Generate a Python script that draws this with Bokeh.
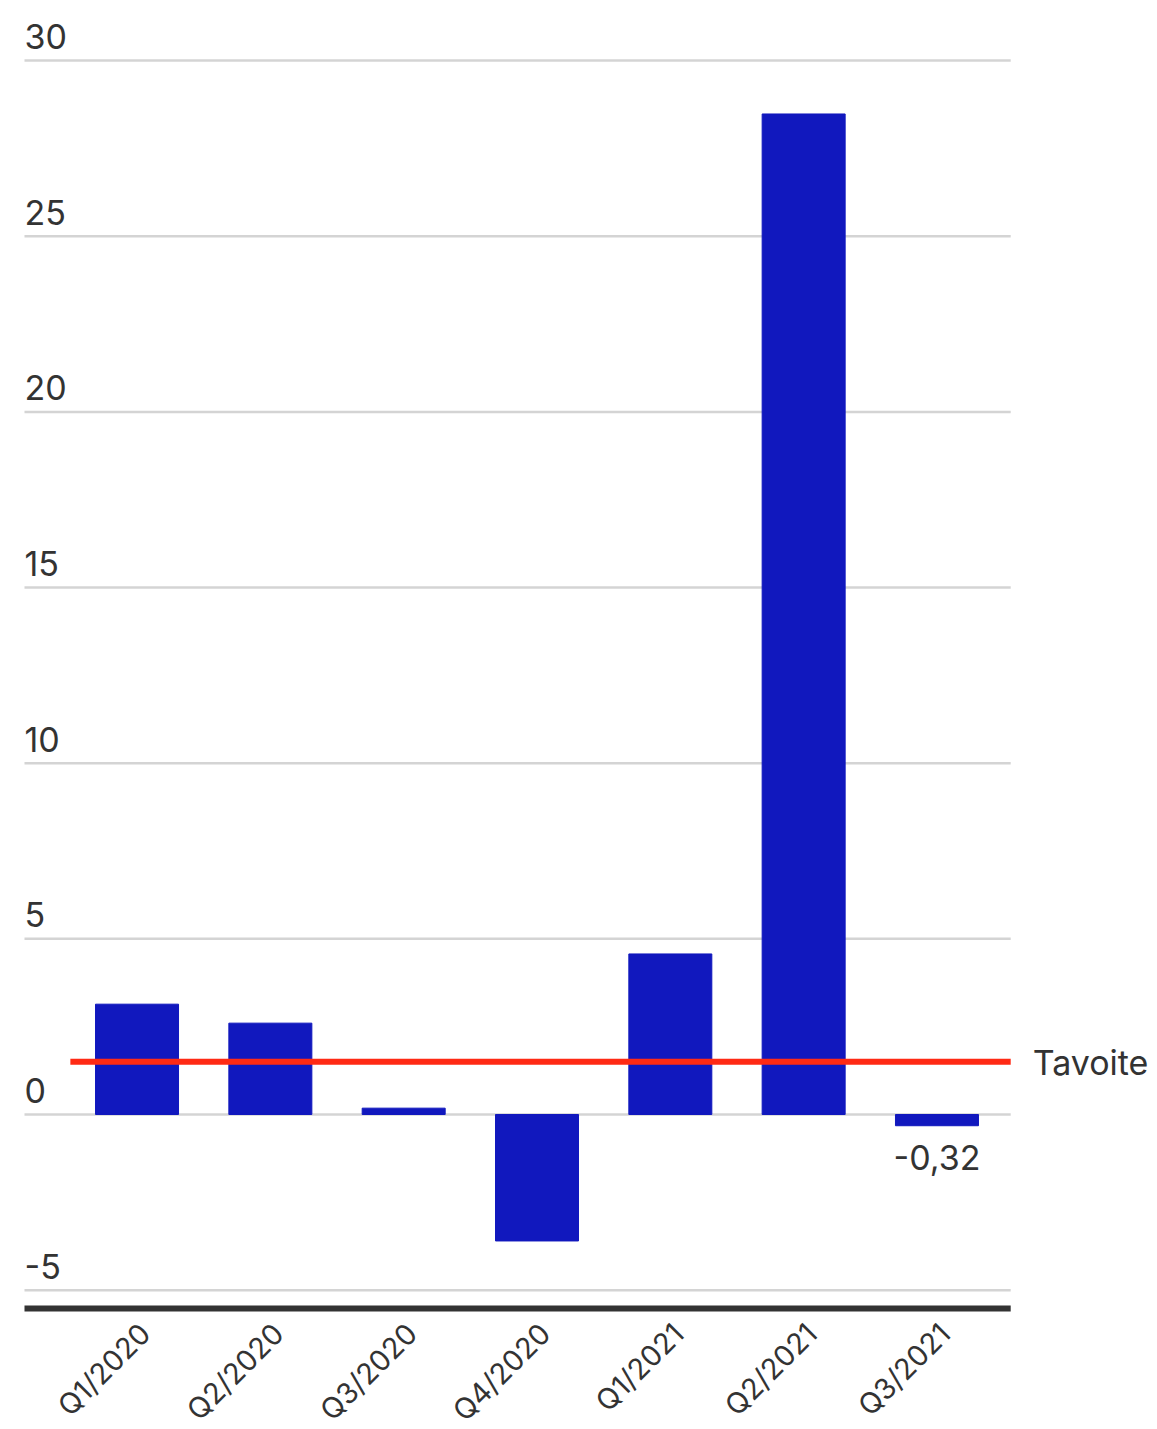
import math
from bokeh.plotting import figure
from bokeh.models import Range1d, ColumnDataSource
from bokeh.core.properties import value
from bokeh.embed import file_html
from bokeh.resources import INLINE

categories = ["Q1/2020", "Q2/2020", "Q3/2020", "Q4/2020", "Q1/2021", "Q2/2021", "Q3/2021"]
values = [3.14, 2.60, 0.18, -3.60, 4.57, 28.48, -0.32]
target = 1.5
target_label = "Tavoite"
y_ticks = [-5, 0, 5, 10, 15, 20, 25, 30]
labelled_index = 6

# layout (data-space extents of the plotting area)
X_START, X_END = -1.024, 7.654
Y_START, Y_END = -8.967, 31.71
GRID_LEFT, GRID_RIGHT = -0.844, 6.553
AXIS_Y = -5.52
TARGET_LEFT = -0.5

FONT = "Inter"
TXT = "#333333"

xs = list(range(len(categories)))
p = figure(width=1157, height=1429, output_backend="svg", toolbar_location=None,
           x_range=Range1d(X_START, X_END), y_range=Range1d(Y_START, Y_END),
           min_border=0, min_border_left=0, min_border_right=0,
           min_border_top=0, min_border_bottom=0)
p.outline_line_color = None
p.background_fill_color = "white"
p.border_fill_color = "white"
p.xaxis.visible = False
p.yaxis.visible = False
p.xgrid.visible = False
p.ygrid.visible = False

# grid lines
p.segment(x0=[GRID_LEFT] * len(y_ticks), x1=[GRID_RIGHT] * len(y_ticks),
          y0=y_ticks, y1=y_ticks, line_color="#d4d4d4", line_width=2.5)

# y tick labels above grid lines
p.text(x=[GRID_LEFT] * len(y_ticks), y=y_ticks, text=[str(t) for t in y_ticks],
       text_font=value(FONT), text_font_size="34px", text_color=TXT,
       text_align="left", text_baseline="alphabetic", y_offset=-24)

# bars
src = ColumnDataSource(dict(x=xs, top=values))
p.vbar(x="x", top="top", bottom=0, width=0.6225, source=src, color="#1118be")

# bottom axis line
p.segment(x0=[GRID_LEFT], x1=[GRID_RIGHT], y0=[AXIS_Y], y1=[AXIS_Y],
          line_color=TXT, line_width=6)

# category labels
p.text(x=xs, y=[AXIS_Y] * len(xs), text=categories, angle=math.pi / 4,
       text_font=value(FONT), text_font_size="29px", text_color=TXT,
       text_align="right", text_baseline="middle", x_offset=8, y_offset=20)

# target line
p.segment(x0=[TARGET_LEFT], x1=[GRID_RIGHT], y0=[target], y1=[target],
          line_color="#ff2a14", line_width=6)
p.text(x=[GRID_RIGHT], y=[target], text=[target_label], x_offset=22, y_offset=1,
       text_font=value(FONT), text_font_size="34px", text_color=TXT,
       text_align="left", text_baseline="middle")

# value label
p.text(x=[xs[labelled_index]], y=[values[labelled_index]],
       text=[f"{values[labelled_index]:.2f}".replace(".", ",")],
       text_font=value(FONT), text_font_size="34px", text_color=TXT,
       text_align="center", text_baseline="top", y_offset=19)

open("out.html", "w").write(file_html(p, INLINE))
